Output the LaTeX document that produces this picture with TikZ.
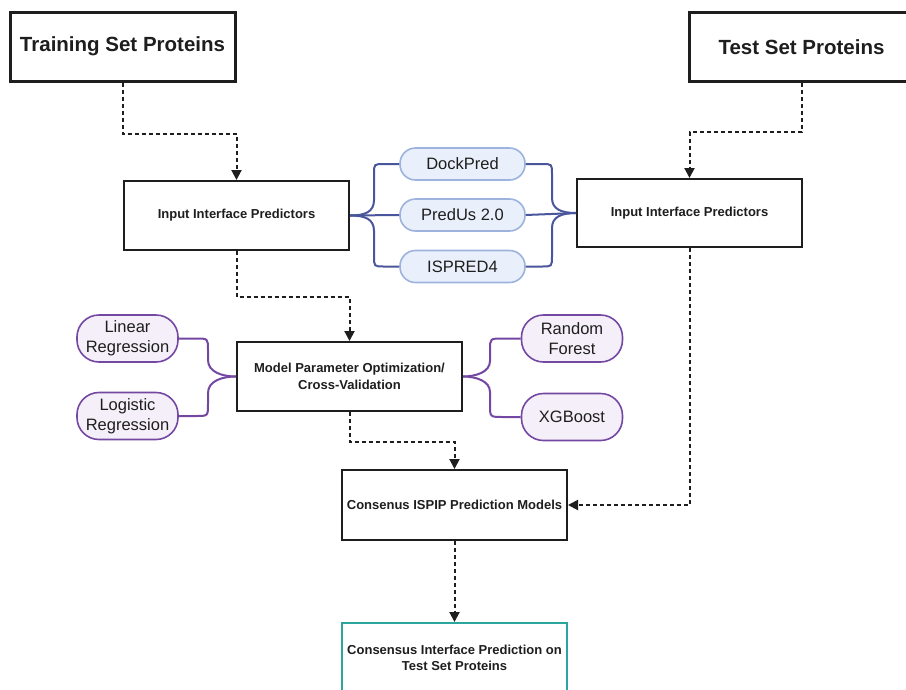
\documentclass[tikz,border=0pt]{standalone}
\usepackage{fontspec}
\setmainfont{Liberation Sans}
\usetikzlibrary{arrows.meta}
\definecolor{bline}{HTML}{4A569C}
\definecolor{bfill}{HTML}{EAF0FB}
\definecolor{bdraw}{HTML}{9DB3DD}
\definecolor{pline}{HTML}{7448A2}
\definecolor{pfill}{HTML}{F4EFF8}
\definecolor{teal2}{HTML}{2CA59D}
\definecolor{ink}{HTML}{1E1E1E}
\tikzset{
  bigbox/.style={draw=ink, line width=3pt, minimum width=225pt, minimum height=69pt, inner sep=2pt, align=center, text=ink, font=\bfseries\fontsize{20.5}{24}\selectfont},
  stdbox/.style={draw=ink, line width=2pt, minimum width=225pt, minimum height=69pt, inner sep=2pt, align=center, text=ink, font=\bfseries\fontsize{13}{16.5}\selectfont},
  bpill/.style={draw=bdraw, fill=bfill, line width=1.6pt, rounded corners=15.5pt, minimum width=125pt, minimum height=32pt, inner sep=1pt, text=ink, font=\fontsize{16.5}{20}\selectfont},
  ppill/.style={draw=pline, fill=pfill, line width=1.6pt, rounded corners=22pt, minimum width=101pt, minimum height=47pt, inner sep=1pt, align=center, text=ink, font=\fontsize{16.5}{20}\selectfont},
  dotarrow/.style={draw=ink, line width=2pt, dash pattern=on 4pt off 3pt, -{Triangle[length=10pt,width=10pt]}},
  bcon/.style={draw=bline, line width=2pt},
  pcon/.style={draw=pline, line width=2pt},
}
\begin{document}
\begin{tikzpicture}[x=1pt,y=-1pt]
\clip (0,0) rectangle (906,689);
\fill[white] (0,0) rectangle (906,689);

\node[bigbox] (train) at (122.5,46.5) {Training Set Proteins};
\node[bigbox] (test) at (801.5,47) {Test Set Proteins};
\node[stdbox] (lin) at (236.5,215.5) {Input Interface Predictors};
\node[stdbox, minimum height=68pt] (rin) at (689.5,213) {Input Interface Predictors};
\node[stdbox] (mpo) at (349.5,376.5) {Model Parameter Optimization/\\Cross-Validation};
\node[stdbox, minimum height=70pt] (cons) at (454.5,505) {Consenus ISPIP Prediction Models};
\node[stdbox, draw=teal2, minimum height=70pt] (final) at (454.5,658) {Consensus Interface Prediction on\\Test Set Proteins};

\node[bpill] (dock) at (462.5,164) {DockPred};
\node[bpill] (predus) at (462.5,215) {PredUs 2.0};
\node[bpill] (ispred) at (462.5,266.5) {ISPRED4};

\node[ppill] (linreg) at (127.5,338.5) {Linear\\Regression};
\node[ppill] (logreg) at (127.5,416) {Logistic\\Regression};
\node[ppill] (rf) at (572,338.5) {Random\\Forest};
\node[ppill] (xgb) at (572,417) {XGBoost};

% blue braces
\draw[bcon] (dock.west) -- (384,164) .. controls (374,164) .. (374,174) -- (374,200) .. controls (374,212) and (365,215.5) .. (lin.east);
\draw[bcon] (predus.west) -- (lin.east);
\draw[bcon] (ispred.west) -- (384,266.5) .. controls (374,266.5) .. (374,256) -- (374,231) .. controls (374,219) and (365,215.5) .. (lin.east);
\draw[bcon] (dock.east) -- (542,164) .. controls (552,164) .. (552,174) -- (552,198) .. controls (552,209) and (561,213) .. (rin.west);
\draw[bcon] (predus.east) -- (rin.west);
\draw[bcon] (ispred.east) -- (542,266.5) .. controls (552,266.5) .. (552,256) -- (552,228) .. controls (552,217) and (561,213) .. (rin.west);

% purple braces
\draw[pcon] (linreg.east) -- (196,338.5) .. controls (208,338.5) .. (208,350) -- (208,360) .. controls (208,372) and (222,376.5) .. (mpo.west);
\draw[pcon] (logreg.east) -- (196,416) .. controls (208,416) .. (208,404) -- (208,393) .. controls (208,381) and (222,376.5) .. (mpo.west);
\draw[pcon] (rf.west) -- (503,338.5) .. controls (490,338.5) .. (490,350) -- (490,361) .. controls (490,372) and (476,376.5) .. (mpo.east);
\draw[pcon] (xgb.west) -- (503,417) .. controls (490,417) .. (490,405) -- (490,392) .. controls (490,381) and (476,376.5) .. (mpo.east);

% dotted arrows
\draw[dotarrow] (train.south) -- ++(0,51) -| (lin.north);
\draw[dotarrow] (test.south) -- ++(0,49) -| (rin.north);
\draw[dotarrow] (lin.south) -- ++(0,46) -| (mpo.north);
\draw[dotarrow] (mpo.south) -- ++(0,30) -| (cons.north);
\draw[dotarrow] (rin.south) |- (cons.east);
\draw[dotarrow] (cons.south) -- (final.north);
\end{tikzpicture}
\end{document}
